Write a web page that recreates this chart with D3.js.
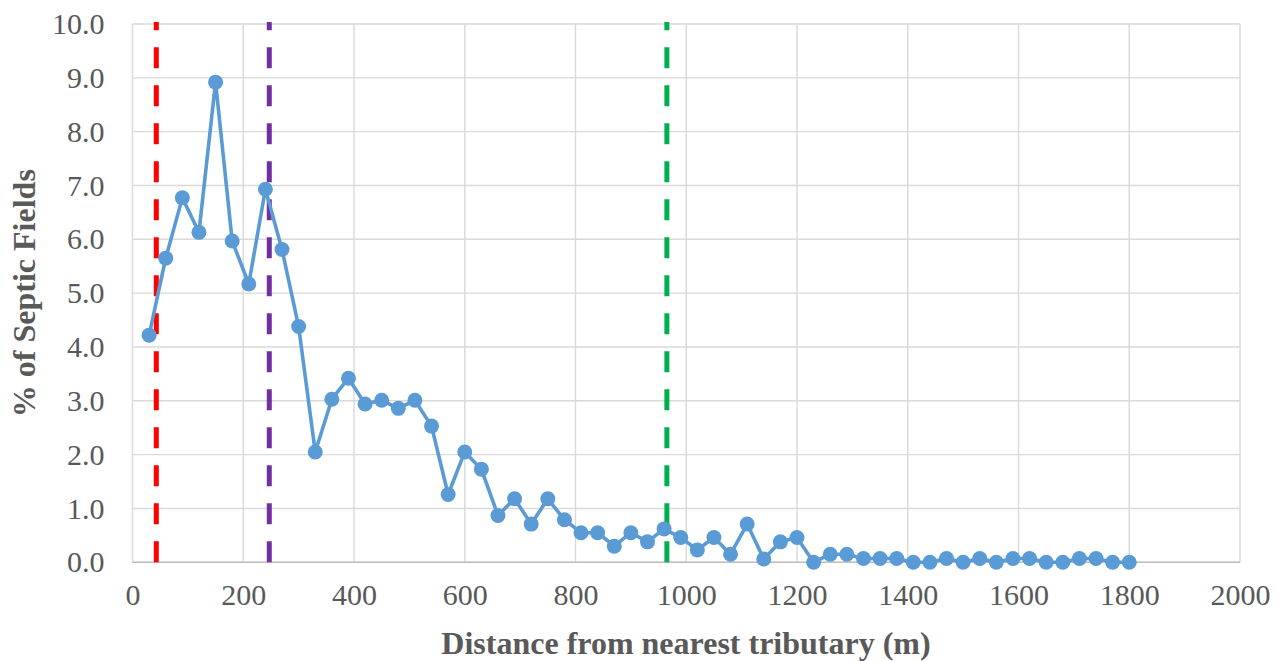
<!DOCTYPE html>
<html>
<head>
<meta charset="utf-8">
<script src="https://d3js.org/d3.v7.min.js"></script>
<style>
body { margin: 0; background: white; }
svg { display: block; }
.tick text { font-family: 'Liberation Serif', 'Times New Roman', serif; fill: #595959; }
</style>
</head>
<body>
<svg width="1278" height="661"></svg>
<script>
// distance bins (m) and % of septic fields
const distances = d3.range(30, 1801, 30);
const percents = [
  4.22, 5.65, 6.77, 6.13, 8.92, 5.97, 5.17, 6.93, 5.81, 4.38,
  2.05, 3.03, 3.42, 2.94, 3.01, 2.86, 3.01, 2.53, 1.26, 2.05,
  1.73, 0.87, 1.18, 0.71, 1.18, 0.79, 0.55, 0.55, 0.30, 0.55,
  0.38, 0.62, 0.46, 0.23, 0.46, 0.15, 0.71, 0.06, 0.38, 0.46,
  0.00, 0.15, 0.15, 0.07, 0.07, 0.07, 0.00, 0.00, 0.07, 0.00,
  0.07, 0.00, 0.07, 0.07, 0.00, 0.00, 0.07, 0.07, 0.00, 0.00
];
const xTicks = d3.range(0, 2001, 200);
const yTicks = d3.range(0, 10.01, 1);
const refLines = [43, 247, 965];
const refColors = ["#ff0000", "#7030a0", "#00b050"];

const svg = d3.select("svg");
const plotL = 132.5, plotR = 1240, plotT = 24, plotB = 562.3;

const x = d3.scaleLinear().domain([0, 2000]).range([plotL, plotR]);
const y = d3.scaleLinear().domain([0, 10]).range([plotB, plotT]);

// gridlines
svg.append("g")
  .selectAll("line")
  .data(yTicks)
  .enter()
  .append("line")
  .attr("x1", plotL).attr("x2", plotR)
  .attr("y1", d => y(d)).attr("y2", d => y(d))
  .attr("stroke", "#d9d9d9")
  .attr("stroke-width", 1.4);

svg.append("g")
  .selectAll("line")
  .data(xTicks)
  .enter()
  .append("line")
  .attr("x1", d => x(d)).attr("x2", d => x(d))
  .attr("y1", plotT).attr("y2", plotB)
  .attr("stroke", "#d9d9d9")
  .attr("stroke-width", 1.4);

// bottom axis line
svg.append("line")
  .attr("x1", plotL).attr("x2", plotR)
  .attr("y1", plotB).attr("y2", plotB)
  .attr("stroke", "#bfbfbf")
  .attr("stroke-width", 1.6);

// axes (labels only)
const xAxis = svg.append("g")
  .attr("transform", `translate(0,${plotB})`)
  .call(d3.axisBottom(x).tickValues(xTicks).tickSize(0).tickPadding(21).tickFormat(d3.format("d")));
xAxis.select(".domain").remove();
xAxis.selectAll("text").style("font-size", "30px");

const yAxis = svg.append("g")
  .attr("transform", `translate(${plotL},0)`)
  .call(d3.axisLeft(y).tickValues(yTicks).tickSize(0).tickPadding(28).tickFormat(d3.format(".1f")));
yAxis.select(".domain").remove();
yAxis.selectAll("text").style("font-size", "30px");

// reference lines
svg.append("g")
  .selectAll("line")
  .data(refLines)
  .enter()
  .append("line")
  .attr("x1", d => x(d)).attr("x2", d => x(d))
  .attr("y1", y(0)).attr("y2", 22)
  .attr("stroke", (d, i) => refColors[i])
  .attr("stroke-width", 5)
  .attr("stroke-dasharray", "21,17");

// series
const pts = distances.map((d, i) => [d, percents[i]]);

svg.append("path")
  .datum(pts)
  .attr("fill", "none")
  .attr("stroke", "#5b9bd5")
  .attr("stroke-width", 3.6)
  .attr("stroke-linejoin", "round")
  .attr("d", d3.line().x(d => x(d[0])).y(d => y(d[1])));

svg.append("g")
  .selectAll("circle")
  .data(pts)
  .enter()
  .append("circle")
  .attr("cx", d => x(d[0]))
  .attr("cy", d => y(d[1]))
  .attr("r", 7.5)
  .attr("fill", "#5b9bd5");

// axis titles
svg.append("text")
  .attr("x", 686)
  .attr("y", 654)
  .attr("text-anchor", "middle")
  .style("font-family", "'Liberation Serif', 'Times New Roman', serif")
  .style("font-weight", "bold")
  .style("font-size", "32px")
  .style("fill", "#595959")
  .text("Distance from nearest tributary (m)");

svg.append("text")
  .attr("transform", `translate(35,${(plotT + plotB) / 2}) rotate(-90)`)
  .attr("text-anchor", "middle")
  .style("font-family", "'Liberation Serif', 'Times New Roman', serif")
  .style("font-weight", "bold")
  .style("font-size", "32px")
  .style("fill", "#595959")
  .text("% of Septic Fields");
</script>
</body>
</html>
